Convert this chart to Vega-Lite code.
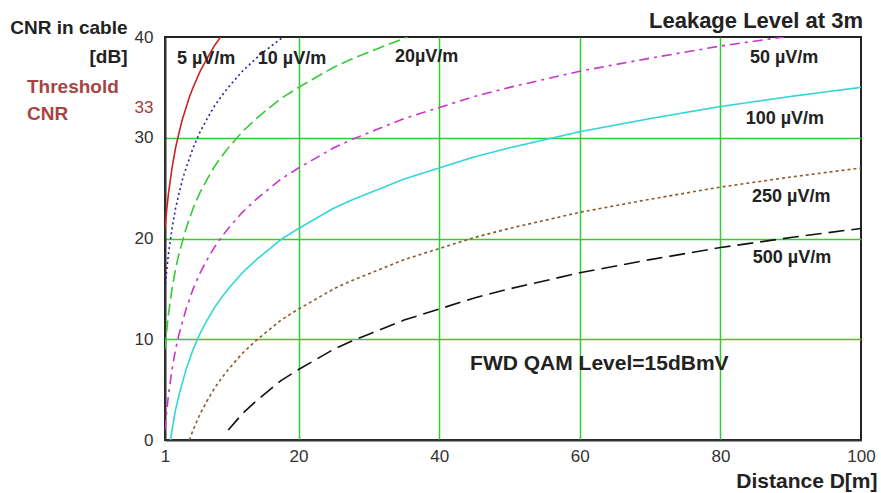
{
  "$schema": "https://vega.github.io/schema/vega-lite/v6.json",
  "width": 696,
  "height": 403,
  "autosize": {"type": "none"},
  "padding": {"left": 165, "top": 37, "right": 20, "bottom": 53},
  "background": "white",
  "config": {
    "font": "Liberation Sans",
    "view": {"stroke": "#222", "strokeWidth": 2}
  },
  "datasets": {
    "curves": [
      {"level": "5", "D": 1, "CNR": 21}, {"level": "5", "D": 1.25, "CNR": 22.9}, {"level": "5", "D": 1.5, "CNR": 24.5}, {"level": "5", "D": 2, "CNR": 27.0}, {"level": "5", "D": 2.5, "CNR": 29.0}, {"level": "5", "D": 3, "CNR": 30.5}, {"level": "5", "D": 3.5, "CNR": 31.9}, {"level": "5", "D": 4, "CNR": 33.0}, {"level": "5", "D": 4.5, "CNR": 34.1}, {"level": "5", "D": 5, "CNR": 35.0}, {"level": "5", "D": 6, "CNR": 36.6}, {"level": "5", "D": 7, "CNR": 37.9}, {"level": "5", "D": 8, "CNR": 39.1}, {"level": "5", "D": 8.9, "CNR": 40.0},
      {"level": "10", "D": 1, "CNR": 15}, {"level": "10", "D": 1.25, "CNR": 16.9}, {"level": "10", "D": 1.5, "CNR": 18.5}, {"level": "10", "D": 2, "CNR": 21.0}, {"level": "10", "D": 2.5, "CNR": 23.0}, {"level": "10", "D": 3, "CNR": 24.5}, {"level": "10", "D": 3.5, "CNR": 25.9}, {"level": "10", "D": 4, "CNR": 27.0}, {"level": "10", "D": 5, "CNR": 29.0}, {"level": "10", "D": 6, "CNR": 30.6}, {"level": "10", "D": 7, "CNR": 31.9}, {"level": "10", "D": 8, "CNR": 33.1}, {"level": "10", "D": 9, "CNR": 34.1}, {"level": "10", "D": 10, "CNR": 35.0}, {"level": "10", "D": 12, "CNR": 36.6}, {"level": "10", "D": 14, "CNR": 37.9}, {"level": "10", "D": 15, "CNR": 38.5}, {"level": "10", "D": 17.8, "CNR": 40.0},
      {"level": "20", "D": 1, "CNR": 9}, {"level": "20", "D": 1.25, "CNR": 10.9}, {"level": "20", "D": 1.5, "CNR": 12.5}, {"level": "20", "D": 2, "CNR": 15.0}, {"level": "20", "D": 2.5, "CNR": 17.0}, {"level": "20", "D": 3, "CNR": 18.5}, {"level": "20", "D": 4, "CNR": 21.0}, {"level": "20", "D": 5, "CNR": 23.0}, {"level": "20", "D": 6, "CNR": 24.6}, {"level": "20", "D": 7, "CNR": 25.9}, {"level": "20", "D": 8, "CNR": 27.1}, {"level": "20", "D": 9, "CNR": 28.1}, {"level": "20", "D": 10, "CNR": 29.0}, {"level": "20", "D": 12, "CNR": 30.6}, {"level": "20", "D": 14, "CNR": 31.9}, {"level": "20", "D": 15, "CNR": 32.5}, {"level": "20", "D": 17.5, "CNR": 33.9}, {"level": "20", "D": 20, "CNR": 35.0}, {"level": "20", "D": 22.5, "CNR": 36.0}, {"level": "20", "D": 25, "CNR": 37.0}, {"level": "20", "D": 27.5, "CNR": 37.8}, {"level": "20", "D": 30, "CNR": 38.5}, {"level": "20", "D": 35.5, "CNR": 40.0},
      {"level": "50", "D": 1, "CNR": 1}, {"level": "50", "D": 1.25, "CNR": 2.9}, {"level": "50", "D": 1.5, "CNR": 4.5}, {"level": "50", "D": 2, "CNR": 7.0}, {"level": "50", "D": 2.5, "CNR": 9.0}, {"level": "50", "D": 3, "CNR": 10.5}, {"level": "50", "D": 4, "CNR": 13.0}, {"level": "50", "D": 5, "CNR": 15.0}, {"level": "50", "D": 6, "CNR": 16.6}, {"level": "50", "D": 7, "CNR": 17.9}, {"level": "50", "D": 8, "CNR": 19.1}, {"level": "50", "D": 9, "CNR": 20.1}, {"level": "50", "D": 10, "CNR": 21.0}, {"level": "50", "D": 12, "CNR": 22.6}, {"level": "50", "D": 14, "CNR": 23.9}, {"level": "50", "D": 17.5, "CNR": 25.9}, {"level": "50", "D": 20, "CNR": 27.0}, {"level": "50", "D": 22.5, "CNR": 28.0}, {"level": "50", "D": 25, "CNR": 29.0}, {"level": "50", "D": 27.5, "CNR": 29.8}, {"level": "50", "D": 30, "CNR": 30.5}, {"level": "50", "D": 35, "CNR": 31.9}, {"level": "50", "D": 40, "CNR": 33.0}, {"level": "50", "D": 45, "CNR": 34.1}, {"level": "50", "D": 50, "CNR": 35.0}, {"level": "50", "D": 60, "CNR": 36.6}, {"level": "50", "D": 70, "CNR": 37.9}, {"level": "50", "D": 80, "CNR": 39.1}, {"level": "50", "D": 89, "CNR": 40.0},
      {"level": "100", "D": 1.78, "CNR": 0}, {"level": "100", "D": 2, "CNR": 1.0}, {"level": "100", "D": 2.5, "CNR": 3.0}, {"level": "100", "D": 3, "CNR": 4.5}, {"level": "100", "D": 4, "CNR": 7.0}, {"level": "100", "D": 5, "CNR": 9.0}, {"level": "100", "D": 6, "CNR": 10.6}, {"level": "100", "D": 7, "CNR": 11.9}, {"level": "100", "D": 8, "CNR": 13.1}, {"level": "100", "D": 9, "CNR": 14.1}, {"level": "100", "D": 10, "CNR": 15.0}, {"level": "100", "D": 12, "CNR": 16.6}, {"level": "100", "D": 14, "CNR": 17.9}, {"level": "100", "D": 17.5, "CNR": 19.9}, {"level": "100", "D": 20, "CNR": 21.0}, {"level": "100", "D": 22.5, "CNR": 22.0}, {"level": "100", "D": 25, "CNR": 23.0}, {"level": "100", "D": 27.5, "CNR": 23.8}, {"level": "100", "D": 30, "CNR": 24.5}, {"level": "100", "D": 35, "CNR": 25.9}, {"level": "100", "D": 40, "CNR": 27.0}, {"level": "100", "D": 45, "CNR": 28.1}, {"level": "100", "D": 50, "CNR": 29.0}, {"level": "100", "D": 60, "CNR": 30.6}, {"level": "100", "D": 70, "CNR": 31.9}, {"level": "100", "D": 80, "CNR": 33.1}, {"level": "100", "D": 90, "CNR": 34.1}, {"level": "100", "D": 100, "CNR": 35.0},
      {"level": "250", "D": 4.47, "CNR": 0}, {"level": "250", "D": 5, "CNR": 1.0}, {"level": "250", "D": 6, "CNR": 2.6}, {"level": "250", "D": 7, "CNR": 3.9}, {"level": "250", "D": 8, "CNR": 5.1}, {"level": "250", "D": 9, "CNR": 6.1}, {"level": "250", "D": 10, "CNR": 7.0}, {"level": "250", "D": 12, "CNR": 8.6}, {"level": "250", "D": 14, "CNR": 9.9}, {"level": "250", "D": 17.5, "CNR": 11.9}, {"level": "250", "D": 20, "CNR": 13.0}, {"level": "250", "D": 22.5, "CNR": 14.0}, {"level": "250", "D": 25, "CNR": 15.0}, {"level": "250", "D": 27.5, "CNR": 15.8}, {"level": "250", "D": 30, "CNR": 16.5}, {"level": "250", "D": 35, "CNR": 17.9}, {"level": "250", "D": 40, "CNR": 19.0}, {"level": "250", "D": 45, "CNR": 20.1}, {"level": "250", "D": 50, "CNR": 21.0}, {"level": "250", "D": 60, "CNR": 22.6}, {"level": "250", "D": 70, "CNR": 23.9}, {"level": "250", "D": 80, "CNR": 25.1}, {"level": "250", "D": 90, "CNR": 26.1}, {"level": "250", "D": 100, "CNR": 27.0},
      {"level": "500", "D": 10, "CNR": 1.0}, {"level": "500", "D": 12, "CNR": 2.6}, {"level": "500", "D": 14, "CNR": 3.9}, {"level": "500", "D": 17.5, "CNR": 5.9}, {"level": "500", "D": 20, "CNR": 7.0}, {"level": "500", "D": 22.5, "CNR": 8.0}, {"level": "500", "D": 25, "CNR": 9.0}, {"level": "500", "D": 27.5, "CNR": 9.8}, {"level": "500", "D": 30, "CNR": 10.5}, {"level": "500", "D": 35, "CNR": 11.9}, {"level": "500", "D": 40, "CNR": 13.0}, {"level": "500", "D": 45, "CNR": 14.1}, {"level": "500", "D": 50, "CNR": 15.0}, {"level": "500", "D": 60, "CNR": 16.6}, {"level": "500", "D": 70, "CNR": 17.9}, {"level": "500", "D": 80, "CNR": 19.1}, {"level": "500", "D": 90, "CNR": 20.1}, {"level": "500", "D": 100, "CNR": 21.0}
    ],
    "labels": [
      {"text": "5 µV/m", "D": 2.7, "CNR": 37.8, "kind": "curve"},
      {"text": "10 µV/m", "D": 14.2, "CNR": 37.8, "kind": "curve"},
      {"text": "20µV/m", "D": 33.7, "CNR": 38.0, "kind": "curve"},
      {"text": "50 µV/m", "D": 84.2, "CNR": 37.9, "kind": "curve"},
      {"text": "100 µV/m", "D": 83.6, "CNR": 31.9, "kind": "curve"},
      {"text": "250 µV/m", "D": 84.5, "CNR": 24.1, "kind": "curve"},
      {"text": "500 µV/m", "D": 84.6, "CNR": 18.1, "kind": "curve"},
      {"text": "FWD QAM Level=15dBmV", "D": 44.4, "CNR": 7.5, "kind": "note"}
    ]
  },
  "layer": [
    {
      "data": {"name": "curves"},
      "mark": {"type": "line", "clip": true, "strokeWidth": 1.6},
      "encoding": {
        "x": {
          "field": "D", "type": "quantitative",
          "scale": {"domain": [1, 100], "nice": false, "zero": false},
          "axis": {
            "values": [1, 20, 40, 60, 80, 100],
            "grid": true,
            "gridColor": "#33cc33",
            "gridWidth": 1.5,
            "gridOpacity": {"condition": {"test": "datum.value == 1 || datum.value == 100", "value": 0}, "value": 1},
            "ticks": false,
            "labelFontSize": 17,
            "labelColor": "#333",
            "labelPadding": 8,
            "labelFlush": false,
            "domainColor": "#333",
            "domainWidth": 2,
            "title": "Distance D[m]",
            "titleFontSize": 21,
            "titleFontWeight": "bold",
            "titleColor": "#222",
            "titleAnchor": "end",
            "titleAlign": "right",
            "titleBaseline": "alphabetic",
            "titleX": 712,
            "titleY": 47
          }
        },
        "y": {
          "field": "CNR", "type": "quantitative",
          "scale": {"domain": [0, 40], "nice": false},
          "axis": {
            "values": [0, 10, 20, 30, 33, 40],
            "grid": true,
            "gridColor": "#33cc33",
            "gridWidth": 1.5,
            "gridOpacity": {"condition": {"test": "datum.value == 0 || datum.value == 33 || datum.value == 40", "value": 0}, "value": 1},
            "ticks": false,
            "labelFontSize": 17,
            "labelColor": {"condition": {"test": "datum.value == 33", "value": "#a83a3a"}, "value": "#333"},
            "labelPadding": 12,
            "domainColor": "#333",
            "domainWidth": 2,
            "title": ["CNR in cable", "[dB]"],
            "titleFontSize": 19,
            "titleFontWeight": "bold",
            "titleColor": "#222",
            "titleAngle": 0,
            "titleAlign": "right",
            "titleBaseline": "alphabetic",
            "titleLineHeight": 29,
            "titleX": -38,
            "titleY": -4
          }
        },
        "color": {
          "field": "level", "type": "nominal", "legend": null,
          "scale": {
            "domain": ["5", "10", "20", "50", "100", "250", "500"],
            "range": ["#cc2222", "#22229a", "#33cc33", "#cc33cc", "#33d6d6", "#8b5a2b", "#111111"]
          }
        },
        "strokeDash": {
          "field": "level", "type": "nominal", "legend": null,
          "scale": {
            "domain": ["5", "10", "20", "50", "100", "250", "500"],
            "range": [[1, 0], [2, 3], [12, 5], [10, 5, 3, 5], [1, 0], [3, 3], [16, 7]]
          }
        }
      }
    },
    {
      "mark": {"type": "rule", "color": "#cc3333", "strokeDash": [4, 3], "strokeWidth": 1.5},
      "encoding": {
        "y": {"datum": 33, "type": "quantitative"}
      }
    },
    {
      "data": {"name": "labels"},
      "transform": [{"filter": "datum.kind == 'curve'"}],
      "mark": {"type": "text", "align": "left", "baseline": "middle", "fontSize": 18, "fontWeight": "bold", "color": "#222"},
      "encoding": {
        "x": {"field": "D", "type": "quantitative"},
        "y": {"field": "CNR", "type": "quantitative"},
        "text": {"field": "text"}
      }
    },
    {
      "data": {"name": "labels"},
      "transform": [{"filter": "datum.kind == 'note'"}],
      "mark": {"type": "text", "align": "left", "baseline": "middle", "fontSize": 21, "fontWeight": "bold", "color": "#222"},
      "encoding": {
        "x": {"field": "D", "type": "quantitative"},
        "y": {"field": "CNR", "type": "quantitative"},
        "text": {"field": "text"}
      }
    },
    {
      "data": {"values": [{"note": "Threshold CNR"}]},
      "mark": {"type": "text", "text": ["Threshold", "CNR"], "align": "left", "baseline": "alphabetic", "fontSize": 19, "fontWeight": "bold", "color": "#a84444", "lineHeight": 27, "dx": -138, "dy": -14.7, "clip": false},
      "encoding": {
        "x": {"datum": 1, "type": "quantitative"},
        "y": {"datum": 33, "type": "quantitative"}
      }
    },
    {
      "data": {"values": [{"note": "Leakage Level at 3m"}]},
      "mark": {"type": "text", "text": "Leakage Level at 3m", "align": "right", "baseline": "alphabetic", "fontSize": 22, "fontWeight": "bold", "color": "#222", "dx": 2, "dy": -9, "clip": false},
      "encoding": {
        "x": {"datum": 100, "type": "quantitative"},
        "y": {"datum": 40, "type": "quantitative"}
      }
    }
  ]
}
